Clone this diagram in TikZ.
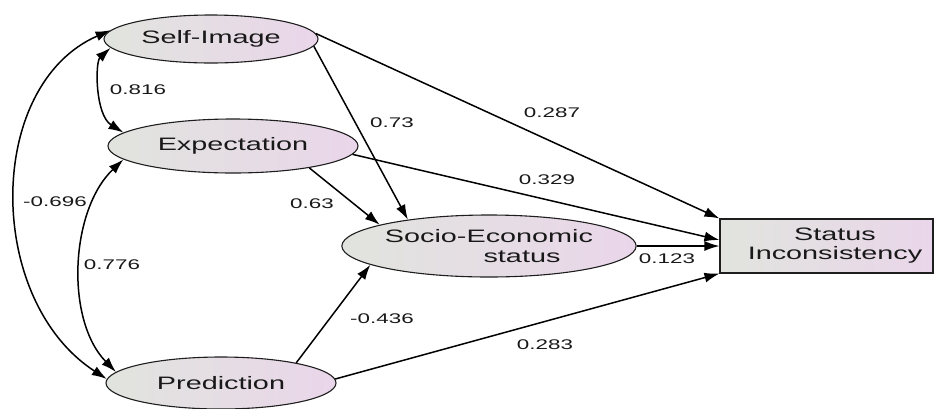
\documentclass[tikz,border=0pt]{standalone}
\usepackage{fontspec}
\setmainfont[FakeStretch=1.6]{Liberation Sans}
\usetikzlibrary{shapes.geometric,arrows.meta}
\definecolor{shL}{RGB}{225,228,222}
\definecolor{shR}{RGB}{234,214,234}
\definecolor{edgeC}{RGB}{30,30,30}
\definecolor{txtC}{RGB}{25,25,25}
\begin{document}
\begin{tikzpicture}[x=1pt,y=-1pt,
  >={Latex[length=15pt,width=10pt]},
  latent/.style={ellipse,draw=edgeC,line width=1.1pt,left color=shL,right color=shR,inner sep=0pt,
     font=\fontsize{18}{20}\selectfont,text=txtC},
  observed/.style={rectangle,draw=edgeC,line width=1.1pt,left color=shL,right color=shR,inner sep=0pt},
  path/.style={->,line width=1.5pt,draw=black},
  cov/.style={<->,line width=1.5pt,draw=black},
  lbl/.style={font=\fontsize{14}{16}\selectfont,text=txtC,inner sep=0pt}]
\useasboundingbox (0,0) rectangle (934,408);
\node[latent,minimum width=214pt,minimum height=48pt] (si) at (211,39) {Self-Image};
\node[latent,minimum width=250pt,minimum height=54pt] (ex) at (233,146) {Expectation};
\node[latent,minimum width=230pt,minimum height=52pt] (pr) at (221,383) {Prediction};
\node[latent,minimum width=288pt,minimum height=62pt,align=center] (se) at (489,246) {Socio-Economic\\\hspace*{66pt}status};
\node[observed,minimum width=213pt,minimum height=54pt] (st) at (826.5,246) {};
\node[align=center,inner sep=0pt,font=\fontsize{18}{19}\selectfont,text=txtC] (stt) at (835,246) {Status\\Inconsistency};

% covariances
\draw[cov] (si.185) .. controls (95,62) and (95,115) .. (ex.173);
\draw[cov] (si.175) .. controls (-15,85) and (-15,300) .. (pr.178);
\draw[cov] (ex.187) .. controls (70,210) and (65,320) .. (pr.174);

% paths
\draw[path] (si.-4.5) -- (se.162);
\draw[path] (si.3) -- (st.north west);
\draw[path] (ex.-16) -- (se.169);
\draw[path] (ex.-4) -- ([yshift=6pt]st.west);
\draw[path] (se.0) -- (st.west);
\draw[path] (pr.15) -- (se.189);
\draw[path] (pr.2) -- (st.south west);

% labels
\node[lbl] (l1) at (138,90) {0.816};
\node[lbl] (l2) at (55,202) {-0.696};
\node[lbl] (l3) at (112,265) {0.776};
\node[lbl] (l4) at (392,123) {0.73};
\node[lbl] (l5) at (552,113) {0.287};
\node[lbl] (l6) at (547,180) {0.329};
\node[lbl] (l7) at (312,204) {0.63};
\node[lbl] (l8) at (667,259) {0.123};
\node[lbl] (l9) at (382,319) {-0.436};
\node[lbl] (l10) at (545,345) {0.283};
\end{tikzpicture}
\end{document}
